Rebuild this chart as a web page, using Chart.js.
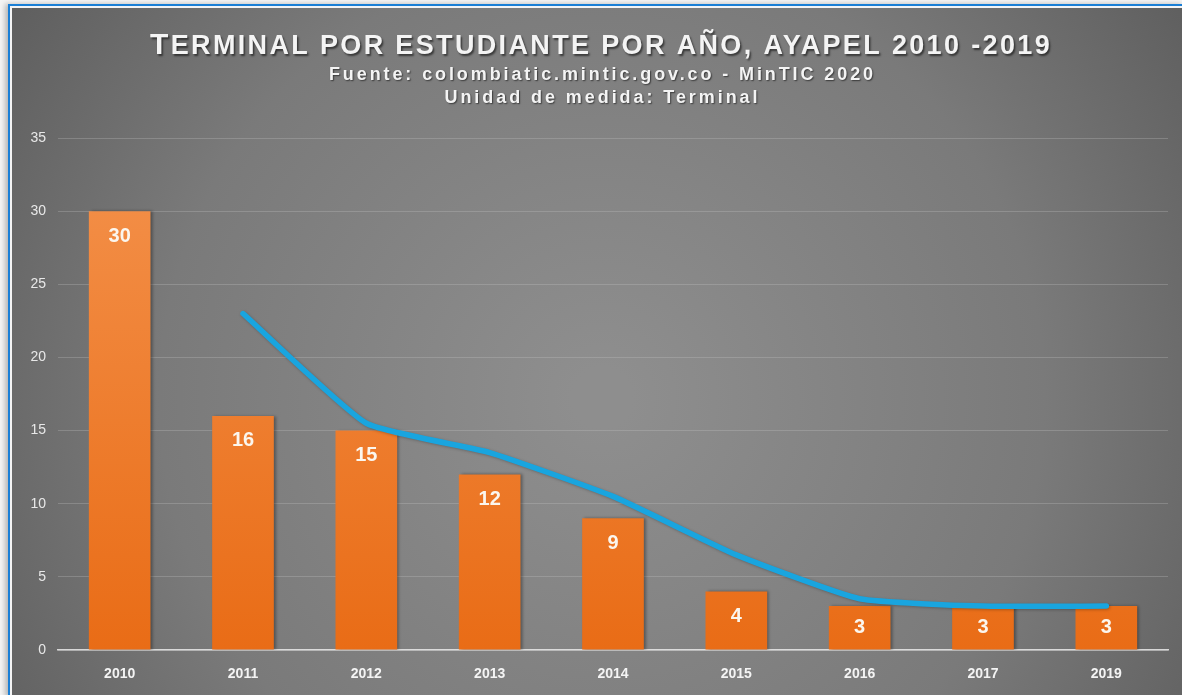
<!DOCTYPE html>
<html>
<head>
<meta charset="utf-8">
<script src="https://cdn.jsdelivr.net/npm/chart.js@4.4.1/dist/chart.umd.min.js"></script>
<style>
  html, body { margin: 0; padding: 0; background: #f4f4f4; width: 1182px; height: 695px; overflow: hidden; }
  #frame { position: absolute; left: 8px; top: 4px; width: 1174px; height: 691px;
           border-left: 2px solid #1a7fd6; border-top: 2px solid #1a7fd6;
           box-shadow: -3px 0 5px rgba(0,0,0,0.25); }
  #wrap { position: absolute; left: 2px; top: 2px; width: 1172px; height: 689px; }
  canvas { display: block; }
</style>
</head>
<body>
<div id="frame"><div id="wrap"><canvas id="c" width="1172" height="689"></canvas></div></div>
<script>
const titleText = "TERMINAL POR ESTUDIANTE POR AÑO, AYAPEL 2010 -2019";
const subtitleLines = ["Fuente: colombiatic.mintic.gov.co - MinTIC 2020", "Unidad de medida: Terminal"];
const categories = ["2010", "2011", "2012", "2013", "2014", "2015", "2016", "2017", "2019"];
const terminalValues = [30, 16, 15, 12, 9, 4, 3, 3, 3];
const trendValues = [null, 23, 15.5, 13.5, 10.5, 6.5, 3.5, 3, 3];
const yTicks = [0, 5, 10, 15, 20, 25, 30, 35];

const bgPlugin = {
  id: 'bg',
  beforeDraw(chart) {
    const ctx = chart.ctx, w = chart.width, h = chart.height;
    ctx.save();
    const g = ctx.createRadialGradient(590, 390, 30, 590, 390, 780);
    g.addColorStop(0, '#8e8e8e');
    g.addColorStop(0.55, '#7a7a7a');
    g.addColorStop(1, '#575757');
    ctx.fillStyle = g;
    ctx.fillRect(0, 0, w, h);
    ctx.restore();
  }
};

function drawSpaced(ctx, text, cx, cy, font, targetWidth) {
  ctx.font = font;
  ctx.letterSpacing = '0px';
  const base = ctx.measureText(text).width;
  const n = text.length;
  const ls = (targetWidth - base) / n;
  ctx.letterSpacing = ls + 'px';
  ctx.textAlign = 'left';
  ctx.textBaseline = 'middle';
  ctx.fillText(text, cx - targetWidth / 2 + ls / 2, cy);
}

const titlePlugin = {
  id: 'titles',
  afterDraw(chart) {
    const ctx = chart.ctx;
    ctx.save();
    ctx.fillStyle = '#f4f4f4';
    ctx.shadowColor = 'rgba(0,0,0,0.55)';
    ctx.shadowOffsetX = 1.5;
    ctx.shadowOffsetY = 1.5;
    ctx.shadowBlur = 2;
    const first = titleText.charAt(0);
    const rest = titleText.slice(1);
    const bigFont = 'bold 30px "Liberation Sans", Arial, sans-serif';
    const smallFont = 'bold 27px "Liberation Sans", Arial, sans-serif';
    const target = 902;
    ctx.letterSpacing = '0px';
    ctx.font = bigFont;
    const wFirst = ctx.measureText(first).width;
    ctx.font = smallFont;
    const wRest = ctx.measureText(rest).width;
    const ls = (target - wFirst - wRest) / titleText.length;
    const left = 589 - target / 2;
    ctx.textBaseline = 'alphabetic';
    ctx.textAlign = 'left';
    ctx.letterSpacing = ls + 'px';
    ctx.font = bigFont;
    ctx.fillText(first, left, 46);
    ctx.font = smallFont;
    ctx.fillText(rest, left + wFirst + ls, 46);
    ctx.shadowOffsetX = 1;
    ctx.shadowOffsetY = 1;
    ctx.shadowBlur = 1.5;
    drawSpaced(ctx, subtitleLines[0], 589, 67, 'bold 18px "Liberation Sans", Arial, sans-serif', 547);
    drawSpaced(ctx, subtitleLines[1], 589, 90, 'bold 18px "Liberation Sans", Arial, sans-serif', 316);
    ctx.restore();
  }
};

const shadowPlugin = {
  id: 'barShadow',
  beforeDatasetDraw(chart, args) {
    const ctx = chart.ctx;
    ctx.save();
    if (args.index === 1) {
      ctx.shadowColor = 'rgba(0,0,0,0.35)';
      ctx.shadowOffsetX = 2;
      ctx.shadowOffsetY = 0;
      ctx.shadowBlur = 3;
    } else {
      ctx.shadowColor = 'rgba(0,0,0,0.25)';
      ctx.shadowOffsetX = 1;
      ctx.shadowOffsetY = 1;
      ctx.shadowBlur = 3;
    }
  },
  afterDatasetDraw(chart) {
    chart.ctx.restore();
  }
};

const labelPlugin = {
  id: 'barLabels',
  afterDatasetsDraw(chart) {
    const ctx = chart.ctx;
    const meta = chart.getDatasetMeta(1);
    ctx.save();
    ctx.fillStyle = '#fbf6ee';
    ctx.font = 'bold 20px "Liberation Sans", Arial, sans-serif';
    ctx.textAlign = 'center';
    ctx.textBaseline = 'middle';
    meta.data.forEach((el, i) => {
      const h = el.base - el.y;
      const off = Math.min(25, h / 2);
      ctx.fillText(String(terminalValues[i]), el.x, el.y + off);
    });
    ctx.restore();
  }
};

const ctx = document.getElementById('c').getContext('2d');
new Chart(ctx, {
  data: {
    labels: categories,
    datasets: [
      {
        type: 'line',
        label: 'Tendencia',
        data: trendValues,
        borderColor: '#19a5df',
        borderWidth: 5.5,
        pointRadius: 0,
        tension: 0.15,
        spanGaps: false,
        order: 0,
        borderCapStyle: 'round'
      },
      {
        type: 'bar',
        label: 'Terminal por estudiante',
        data: terminalValues,
        backgroundColor(c) {
          const area = c.chart.chartArea;
          if (!area) return '#ec7a2a';
          const g = c.chart.ctx.createLinearGradient(0, area.top, 0, area.bottom);
          g.addColorStop(0, '#f4924c');
          g.addColorStop(1, '#e96c16');
          return g;
        },
        barPercentage: 0.5,
        categoryPercentage: 1.0,
        order: 1
      }
    ]
  },
  options: {
    responsive: false,
    animation: false,
    layout: { padding: { top: 130, right: 16, bottom: 7, left: 0 } },
    plugins: { legend: { display: false }, title: { display: false }, tooltip: { enabled: false } },
    scales: {
      x: {
        grid: { display: false, drawTicks: false },
        border: { display: true, color: 'rgba(235,235,235,0.85)', width: 1.5 },
        ticks: { color: '#f4f4f4', font: { family: '"Liberation Sans", Arial, sans-serif', size: 14, weight: 'bold' }, padding: 16 },
        afterFit(s) { s.height = 40; }
      },
      y: {
        min: 0, max: 35,
        afterBuildTicks(s) { s.ticks = yTicks.map(v => ({ value: v })); },
        grid: { color: 'rgba(200,200,200,0.28)', drawTicks: false, lineWidth: 1 },
        border: { display: false },
        ticks: { color: '#e8e8e8', font: { family: '"Liberation Sans", Arial, sans-serif', size: 14 }, padding: 12 },
        afterFit(s) { s.width = 46; }
      }
    }
  },
  plugins: [bgPlugin, shadowPlugin, labelPlugin, titlePlugin]
});
</script>
</body>
</html>
